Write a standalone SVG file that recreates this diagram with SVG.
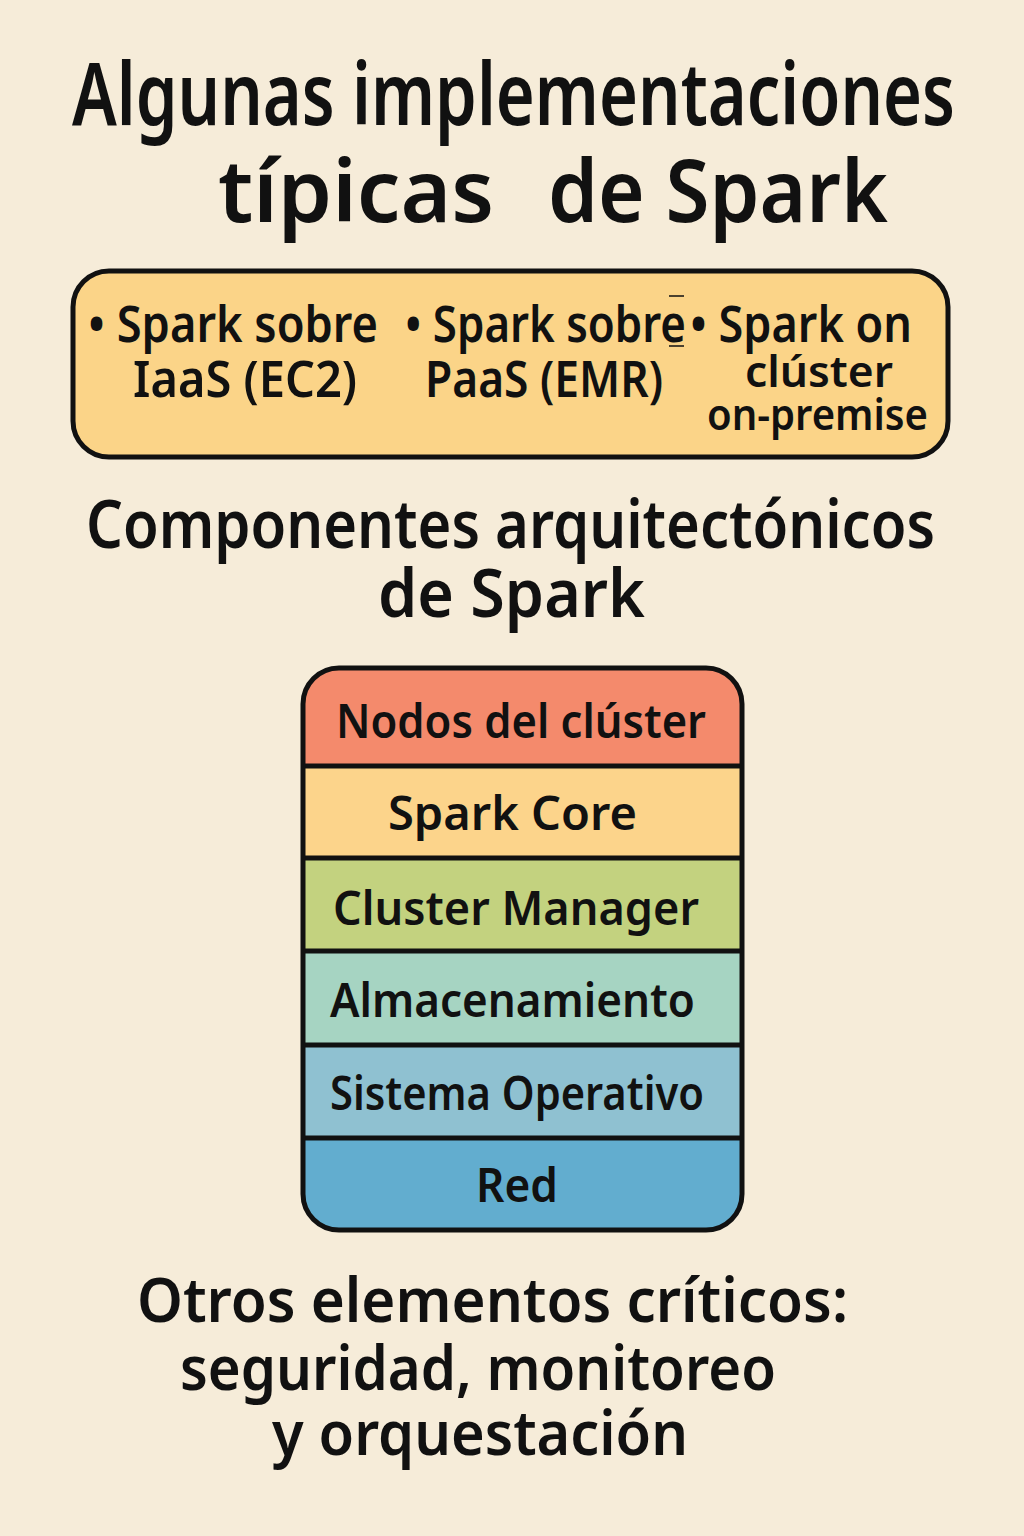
<svg xmlns="http://www.w3.org/2000/svg" width="1024" height="1536" viewBox="0 0 1024 1536">
<defs>
<style>
text{font-family:"Noto Sans","Open Sans","DejaVu Sans",sans-serif;font-weight:600;fill:#111;}
.h1{font-size:86px;}
.h2{font-size:66px;}
.h3{font-size:62px;}
.b{font-size:50px;}
.c{font-size:44px;}
.s{font-size:46px;}
.edge{stroke:#111;stroke-width:5;fill:none;stroke-linecap:round;}
</style>
<clipPath id="stackClip"><rect x="303" y="668" width="439" height="562" rx="36"/></clipPath>
</defs>
<rect width="1024" height="1536" fill="#f6ecd9"/>
<g id="title">
<text class="h1" x="72" y="125" textLength="883" lengthAdjust="spacingAndGlyphs">Algunas implementaciones</text>
<text class="h1" x="218" y="222" textLength="276" lengthAdjust="spacingAndGlyphs">típicas</text>
<text class="h1" x="548" y="222" textLength="340" lengthAdjust="spacingAndGlyphs">de Spark</text>
</g>
<g id="implementations">
<rect x="73" y="271" width="875" height="186" rx="36" fill="#fbd488" stroke="#111" stroke-width="5"/>
<text class="b" x="88" y="342" textLength="290" lengthAdjust="spacingAndGlyphs">• Spark sobre</text>
<text class="b" x="133" y="397" textLength="224" lengthAdjust="spacingAndGlyphs">IaaS (EC2)</text>
<text class="b" x="405" y="342" textLength="281" lengthAdjust="spacingAndGlyphs">• Spark sobre</text>
<text class="b" x="425" y="397" textLength="238" lengthAdjust="spacingAndGlyphs">PaaS (EMR)</text>
<text class="b" x="690" y="342" textLength="222" lengthAdjust="spacingAndGlyphs">• Spark on</text>
<text class="c" x="745" y="387" textLength="148" lengthAdjust="spacingAndGlyphs">clúster</text>
<text class="c" x="707" y="430" textLength="221" lengthAdjust="spacingAndGlyphs">on-premise</text>
<line x1="669" y1="296" x2="684" y2="296" stroke="#111" stroke-width="1.5"/>
<line x1="669" y1="346" x2="684" y2="346" stroke="#111" stroke-width="1.5"/>
</g>
<g id="components-title">
<text class="h2" x="86" y="548" textLength="849" lengthAdjust="spacingAndGlyphs">Componentes arquitectónicos</text>
<text class="h2" x="378" y="617" textLength="267" lengthAdjust="spacingAndGlyphs">de Spark</text>
</g>
<g id="stack">
<g clip-path="url(#stackClip)">
<rect id="band-nodos" x="303" y="668" width="439" height="98" fill="#f48a6c"/>
<rect id="band-core" x="303" y="766" width="439" height="92" fill="#fcd48b"/>
<rect id="band-cm" x="303" y="858" width="439" height="93" fill="#c3d27f"/>
<rect id="band-alm" x="303" y="951" width="439" height="94" fill="#a6d4c2"/>
<rect id="band-so" x="303" y="1045" width="439" height="93" fill="#8fc1d1"/>
<rect id="band-red" x="303" y="1138" width="439" height="92" fill="#62adcf"/>
</g>
<g class="sep">
<line class="edge" x1="305" y1="766" x2="740" y2="766"/>
<line class="edge" x1="305" y1="858" x2="740" y2="858"/>
<line class="edge" x1="305" y1="951" x2="740" y2="951"/>
<line class="edge" x1="305" y1="1045" x2="740" y2="1045"/>
<line class="edge" x1="305" y1="1138" x2="740" y2="1138"/>
</g>
<rect x="303" y="668" width="439" height="562" rx="36" fill="none" stroke="#111" stroke-width="5"/>
<text class="s" x="336" y="738" textLength="370" lengthAdjust="spacingAndGlyphs">Nodos del clúster</text>
<text class="s" x="388" y="830" textLength="249" lengthAdjust="spacingAndGlyphs">Spark Core</text>
<text class="s" x="333" y="925" textLength="366" lengthAdjust="spacingAndGlyphs">Cluster Manager</text>
<text class="s" x="330" y="1017" textLength="365" lengthAdjust="spacingAndGlyphs">Almacenamiento</text>
<text class="s" x="330" y="1110" textLength="374" lengthAdjust="spacingAndGlyphs">Sistema Operativo</text>
<text class="s" x="476" y="1202" textLength="82" lengthAdjust="spacingAndGlyphs">Red</text>
</g>
<g id="others">
<text class="h3" x="137" y="1322" textLength="711" lengthAdjust="spacingAndGlyphs">Otros elementos críticos:</text>
<text class="h3" x="180" y="1390" textLength="596" lengthAdjust="spacingAndGlyphs">seguridad, monitoreo</text>
<text class="h3" x="272" y="1455" textLength="416" lengthAdjust="spacingAndGlyphs">y orquestación</text>
</g>
</svg>
